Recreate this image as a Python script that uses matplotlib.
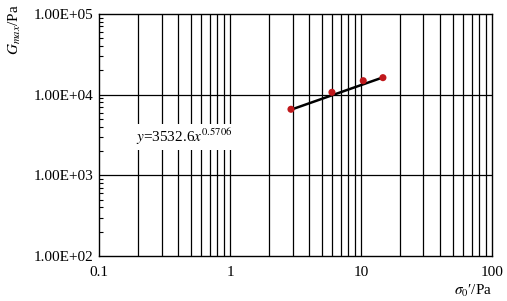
import matplotlib
matplotlib.use("Agg")
import matplotlib.pyplot as plt
import numpy as np
from matplotlib.ticker import LogLocator, NullFormatter, FixedLocator

plt.rcParams["font.family"] = ["Liberation Serif", "DejaVu Serif"]
plt.rcParams["mathtext.fontset"] = "stix"

# measured points
sigma0 = [2.92, 6.0, 10.4, 14.7]
gmax = [6590, 10700, 14900, 16250]

# power-law fit shown on chart
coef_a = 3532.6
coef_b = 0.5706

y_ticks = [1e2, 1e3, 1e4, 1e5]
y_ticklabels = ["1.00E+02", "1.00E+03", "1.00E+04", "1.00E+05"]
x_ticks = [0.1, 1, 10, 100]
x_ticklabels = ["0.1", "1", "10", "100"]

fig = plt.figure(figsize=(5.07, 3.01), dpi=100)
ax = fig.add_axes([0.1953, 0.1495, 0.7751, 0.804])

ax.set_xscale("log")
ax.set_yscale("log")
ax.set_xlim(0.1, 100)
ax.set_ylim(1e2, 1e5)

# vertical grid on every decade step, horizontal only on decades
xgrid = [m * 10.0 ** e for e in (-1, 0, 1) for m in range(1, 10)][1:]
for xv in xgrid:
    ax.axvline(xv, color="black", lw=0.9, zorder=1)
for yv in y_ticks[1:-1]:
    ax.axhline(yv, color="black", lw=0.9, zorder=1)

# fit line
xf = np.linspace(min(sigma0), max(sigma0), 50)
ax.plot(xf, coef_a * xf ** coef_b, color="black", lw=1.8, zorder=3)
ax.scatter(sigma0, gmax, s=26, color="#c0191c", zorder=4, edgecolors="none")

ax.text(0.19, 3000, r"$y$=3532.6$x^{0.5706}$", fontsize=11,
        va="center", ha="left",
        bbox=dict(facecolor="white", edgecolor="none", pad=2), zorder=5)

ax.set_yticks(y_ticks)
ax.set_yticklabels(y_ticklabels, fontsize=11)
ax.yaxis.set_minor_locator(LogLocator(base=10, subs=np.arange(2, 10)))
ax.yaxis.set_minor_formatter(NullFormatter())
ax.tick_params(axis="y", which="major", direction="in", length=0, pad=4)
ax.tick_params(axis="y", which="minor", direction="in", length=3, width=0.8)

ax.set_xticks(x_ticks)
ax.set_xticklabels(x_ticklabels, fontsize=11)
ax.xaxis.set_minor_locator(FixedLocator([]))
ax.tick_params(axis="x", which="major", length=0, pad=7)

for s in ax.spines.values():
    s.set_linewidth(1.0)

fig.text(0.03, 0.985, r"$G_{max}$/Pa", rotation=90, fontsize=11,
         ha="center", va="top")
fig.text(0.9704, 0.005, r"$\sigma_0$′/Pa", fontsize=11,
         ha="right", va="bottom")

fig.savefig("out.png", dpi=100)
